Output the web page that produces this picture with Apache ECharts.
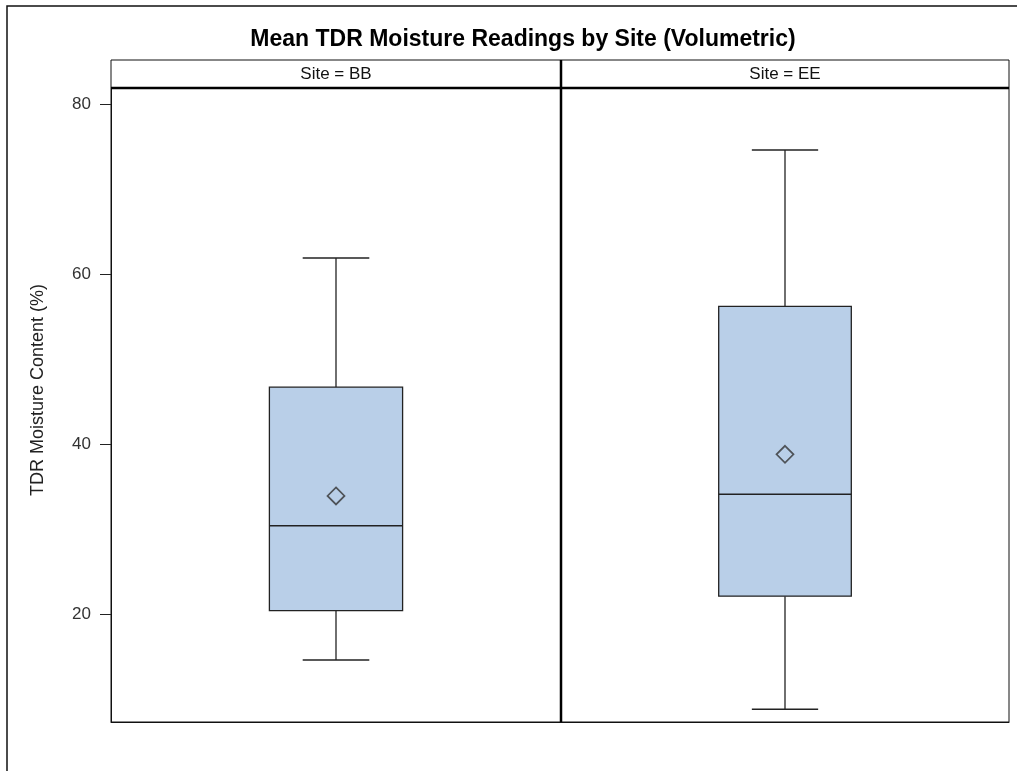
<!DOCTYPE html>
<html>
<head>
<meta charset="utf-8">
<script src="https://cdn.jsdelivr.net/npm/echarts@6/dist/echarts.min.js"></script>
<style>
  html, body { margin: 0; background: #fff; }
  #chart { width: 1017px; height: 771px; }
</style>
</head>
<body>
<div id="chart"></div>
<script>
// box statistics per site
const sites = ['BB', 'EE'];
const whiskerLow = [14.6, 8.8];
const q1 = [20.4, 22.1];
const median = [30.4, 34.1];
const q3 = [46.7, 56.2];
const whiskerHigh = [61.9, 74.6];
const means = [33.9, 38.8];
const yTicks = [20, 40, 60, 80];

const FONT = '"Liberation Sans", Arial, sans-serif';
const BOX_FILL = '#b9cfe8';
const EDGE = '#222';

// box, whiskers and half-width caps drawn through the axes
function renderBox(params, api) {
  const x = api.value(0);
  const pLow = api.coord([x, api.value(1)]);
  const pQ1 = api.coord([x, api.value(2)]);
  const pMed = api.coord([x, api.value(3)]);
  const pQ3 = api.coord([x, api.value(4)]);
  const pHigh = api.coord([x, api.value(5)]);
  const bw = api.size([1, 0])[0] * 0.296;
  const half = bw / 2;
  const cap = bw / 4;
  const cx = pMed[0];
  const line = (x1, y1, x2, y2, w) => ({
    type: 'line',
    shape: { x1: x1, y1: y1, x2: x2, y2: y2 },
    style: { stroke: EDGE, lineWidth: w || 1.3 }
  });
  return {
    type: 'group',
    children: [
      line(cx, pHigh[1], cx, pQ3[1]),
      line(cx, pQ1[1], cx, pLow[1]),
      line(cx - cap, pHigh[1], cx + cap, pHigh[1], 1.6),
      line(cx - cap, pLow[1], cx + cap, pLow[1], 1.6),
      {
        type: 'rect',
        shape: { x: cx - half, y: pQ3[1], width: bw, height: pQ1[1] - pQ3[1] },
        style: { fill: BOX_FILL, stroke: EDGE, lineWidth: 1.3 }
      },
      line(cx - half, pMed[1], cx + half, pMed[1], 1.5)
    ]
  };
}

const panels = [
  { left: 111, right: 456 },
  { left: 561, right: 8 }
];

const grids = panels.map(p => ({
  left: p.left, right: p.right, top: 88, bottom: 49,
  show: true, borderColor: '#111', borderWidth: 1, backgroundColor: '#fff'
}));

const xAxes = sites.map((s, i) => ({
  type: 'category', gridIndex: i, data: [s],
  axisLine: { show: true, lineStyle: { color: '#111' } },
  axisTick: { show: false }, axisLabel: { show: false },
  splitLine: { show: false }
}));

const yAxes = sites.map((s, i) => ({
  type: 'value', gridIndex: i, min: 7.3, max: 81.9,
  name: i === 0 ? 'TDR Moisture Content (%)' : '',
  nameLocation: 'middle', nameGap: 64,
  nameTextStyle: { fontFamily: FONT, fontSize: 18, color: '#222', padding: [0, 0, 0, 30] },
  axisLine: { show: i === 0, lineStyle: { color: '#111' } },
  axisTick: { show: i === 0, length: 11, customValues: yTicks, lineStyle: { color: '#222' } },
  axisLabel: {
    show: i === 0, customValues: yTicks, margin: 20,
    fontFamily: FONT, fontSize: 17, color: '#333'
  },
  splitLine: { show: false }
}));

const series = [];
sites.forEach((s, i) => {
  series.push({
    type: 'custom', xAxisIndex: i, yAxisIndex: i,
    renderItem: renderBox,
    encode: { x: 0, y: [1, 2, 3, 4, 5] },
    data: [[0, whiskerLow[i], q1[i], median[i], q3[i], whiskerHigh[i]]],
    z: 2
  });
  series.push({
    type: 'scatter', xAxisIndex: i, yAxisIndex: i,
    symbol: 'diamond', symbolSize: 17,
    itemStyle: { color: 'rgba(0,0,0,0)', borderColor: '#333', borderWidth: 1.7 },
    data: [[0, means[i]]],
    z: 3
  });
});

// frame, strip headers and thick separators
const graphic = [
  {
    type: 'rect', shape: { x: 7, y: 6, width: 1030, height: 800 },
    style: { fill: 'none', stroke: '#111', lineWidth: 1.5 }, silent: true
  },
  {
    type: 'rect', shape: { x: 111, y: 60, width: 450, height: 28 },
    style: { fill: '#fff', stroke: '#111', lineWidth: 1 }
  },
  {
    type: 'rect', shape: { x: 561, y: 60, width: 448, height: 28 },
    style: { fill: '#fff', stroke: '#111', lineWidth: 1 }
  },
  {
    type: 'text', x: 336, y: 74,
    style: { text: 'Site = ' + sites[0], fontFamily: FONT, fontSize: 17, fill: '#111', align: 'center', verticalAlign: 'middle' }
  },
  {
    type: 'text', x: 785, y: 74,
    style: { text: 'Site = ' + sites[1], fontFamily: FONT, fontSize: 17, fill: '#111', align: 'center', verticalAlign: 'middle' }
  },
  {
    type: 'line', shape: { x1: 111, y1: 88, x2: 1009, y2: 88 },
    style: { stroke: '#000', lineWidth: 2.5 }, z: 100
  },
  {
    type: 'line', shape: { x1: 561, y1: 60, x2: 561, y2: 722 },
    style: { stroke: '#000', lineWidth: 2.5 }, z: 100
  }
];

const chart = echarts.init(document.getElementById('chart'));
chart.setOption({
  backgroundColor: '#fff',
  animation: false,
  title: {
    text: 'Mean TDR Moisture Readings by Site (Volumetric)',
    left: 518, top: 23, textAlign: 'center',
    textStyle: { fontFamily: FONT, fontSize: 23, fontWeight: 'bold', color: '#000' }
  },
  grid: grids,
  xAxis: xAxes,
  yAxis: yAxes,
  series: series,
  graphic: graphic
});
</script>
</body>
</html>
